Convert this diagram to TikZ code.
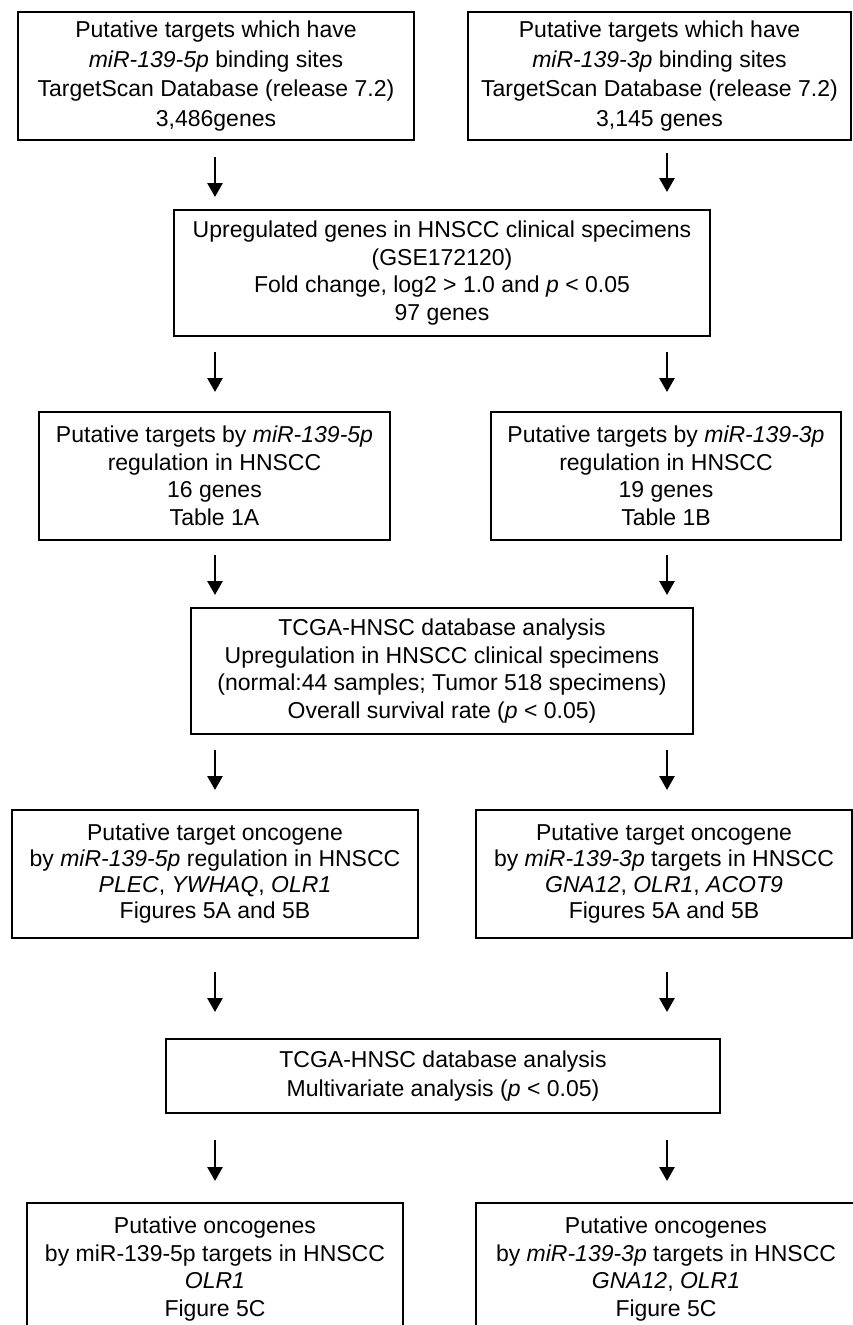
\documentclass[tikz,border=0pt]{standalone}
\usepackage{fontspec}
\setmainfont{Liberation Sans}
\usetikzlibrary{arrows.meta}
\begin{document}
\begin{tikzpicture}[x=1pt,y=1pt,
  box/.style={draw=black, line width=1.8pt, align=center, inner sep=0pt,
    font=\fontsize{23}{27.5}\selectfont},
  topfont/.style={font=\fontsize{23}{29.5}\selectfont},
  midfont/.style={font=\fontsize{23}{26}\selectfont},
  arr/.style={line width=2.8pt, -{Triangle[width=15pt,length=14pt]}}]
\useasboundingbox (0,0) rectangle (853,-1325);
\clip (0,0) rectangle (853,-1325);
% row 1
\node[box, topfont, minimum width=396pt, minimum height=128pt] (b1) at (216,-76)
  {Putative targets which have\\\textit{miR-139-5p} binding sites\\TargetScan Database (release 7.2)\\3,486genes};
\node[box, topfont, minimum width=383pt, minimum height=128pt] (b2) at (659.5,-76)
  {Putative targets which have\\\textit{miR-139-3p} binding sites\\TargetScan Database (release 7.2)\\3,145 genes};
% row 2
\node[box, minimum width=536pt, minimum height=126pt] (b3) at (442,-273)
  {Upregulated genes in HNSCC clinical specimens\\(GSE172120)\\Fold change, log2 {>} 1.0 and \textit{p} {<} 0.05\\97 genes};
% row 3
\node[box, minimum width=351pt, minimum height=128pt] (b4) at (214.5,-476)
  {Putative targets by \textit{miR-139-5p}\\regulation in HNSCC\\16 genes\\Table 1A};
\node[box, minimum width=350pt, minimum height=128pt] (b5) at (666,-476)
  {Putative targets by \textit{miR-139-3p}\\regulation in HNSCC\\19 genes\\Table 1B};
% row 4
\node[box, minimum width=502pt, minimum height=126pt] (b6) at (442,-671)
  {TCGA-HNSC database analysis\\Upregulation in HNSCC clinical specimens\\(normal:44 samples; Tumor 518 specimens)\\Overall survival rate (\textit{p} {<} 0.05)};
% row 5
\node[box, midfont, minimum width=406pt, minimum height=128pt] (b7) at (215,-874)
  {Putative target oncogene\\by \textit{miR-139-5p} regulation in HNSCC\\\textit{PLEC}, \textit{YWHAQ}, \textit{OLR1}\\Figures 5A and 5B};
\node[box, midfont, minimum width=376pt, minimum height=128pt] (b8) at (664,-874)
  {Putative target oncogene\\by \textit{miR-139-3p} targets in HNSCC\\\textit{GNA12}, \textit{OLR1}, \textit{ACOT9}\\Figures 5A and 5B};
% row 6
\node[box, font=\fontsize{23}{29}\selectfont, minimum width=554pt, minimum height=74pt] (b9) at (443,-1076)
  {TCGA-HNSC database analysis\\Multivariate analysis (\textit{p} {<} 0.05)};
% row 7 (cut off at bottom)
\node[box, anchor=north, minimum width=376pt, inner ysep=14pt] (b10) at (215,-1202)
  {Putative oncogenes\\by miR-139-5p targets in HNSCC\\\textit{OLR1}\\Figure 5C\\\strut};
\node[box, anchor=north, minimum width=380pt, inner ysep=14pt] (b11) at (666,-1202)
  {Putative oncogenes\\by \textit{miR-139-3p} targets in HNSCC\\\textit{GNA12}, \textit{OLR1}\\Figure 5C\\\strut};
% arrows
\coordinate (a1s) at (215,-157);  \coordinate (a1e) at (215,-197);
\coordinate (a2s) at (667,-153);  \coordinate (a2e) at (667,-192);
\coordinate (a3s) at (215,-352);  \coordinate (a3e) at (215,-392);
\coordinate (a4s) at (667,-352);  \coordinate (a4e) at (667,-392);
\coordinate (a5s) at (215,-555);  \coordinate (a5e) at (215,-595);
\coordinate (a6s) at (667,-555);  \coordinate (a6e) at (667,-595);
\coordinate (a7s) at (215,-750);  \coordinate (a7e) at (215,-790);
\coordinate (a8s) at (667,-750);  \coordinate (a8e) at (667,-790);
\coordinate (a9s) at (215,-972);  \coordinate (a9e) at (215,-1012);
\coordinate (a10s) at (667,-972); \coordinate (a10e) at (667,-1012);
\coordinate (a11s) at (215,-1140); \coordinate (a11e) at (215,-1181);
\coordinate (a12s) at (667,-1140); \coordinate (a12e) at (667,-1181);
\foreach \i in {1,...,12} { \draw[arr] (a\i s) -- (a\i e); }
\end{tikzpicture}
\end{document}
